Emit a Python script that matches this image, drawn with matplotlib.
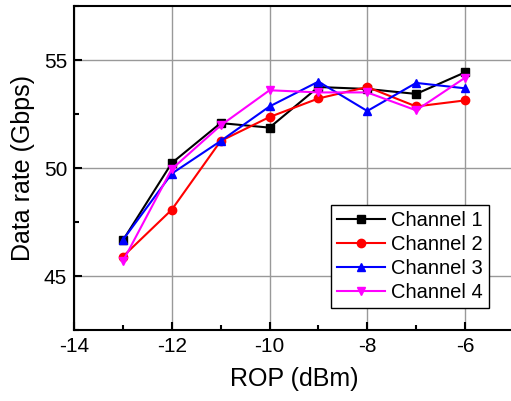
import matplotlib
matplotlib.use("Agg")
import matplotlib.pyplot as plt
from matplotlib.ticker import MultipleLocator

plt.rcParams['font.family'] = ['Liberation Sans', 'DejaVu Sans']
plt.rcParams['axes.unicode_minus'] = False

# ROP values (dBm)
rop = [-13, -12, -11, -10, -9, -8, -7, -6]

# data rates (Gbps)
ch1 = [46.65, 50.23, 52.08, 51.87, 53.75, 53.66, 53.43, 54.43]
ch2 = [45.90, 48.07, 51.25, 52.36, 53.22, 53.75, 52.85, 53.13]
ch3 = [46.67, 49.74, 51.25, 52.85, 54.00, 52.64, 53.94, 53.69]
ch4 = [45.68, 49.95, 51.97, 53.60, 53.50, 53.50, 52.67, 54.18]

labels = ['Channel 1', 'Channel 2', 'Channel 3', 'Channel 4']
colors = ['black', 'red', 'blue', 'magenta']
markers = ['s', 'o', '^', 'v']

fig = plt.figure(figsize=(5.11, 4.01), dpi=100)
ax = fig.add_axes([0.1448, 0.177, 1.0057 - 0.1448, 0.985 - 0.177])

for y, lab, c, m in zip([ch1, ch2, ch3, ch4], labels, colors, markers):
    ax.plot(rop, y, color=c, marker=m, markersize=6, linewidth=1.5, label=lab)

ax.set_xlim(-14, -5)
ax.set_ylim(42.5, 57.5)
ax.xaxis.set_major_locator(MultipleLocator(2))
ax.xaxis.set_minor_locator(MultipleLocator(1))
ax.yaxis.set_major_locator(MultipleLocator(5))
ax.yaxis.set_minor_locator(MultipleLocator(2.5))
ax.tick_params(which='both', direction='in', labelsize=15, width=1.5)
ax.tick_params(which='major', length=6, pad=5)
ax.tick_params(which='minor', length=3.5)
ax.tick_params(top=False, right=False)
ax.grid(True, which='major', color='#999999', linewidth=1)
ax.set_axisbelow(True)
for s in ax.spines.values():
    s.set_linewidth(1.5)

ax.set_xlabel('ROP (dBm)', fontsize=18, labelpad=8)
ax.set_ylabel('Data rate (Gbps)', fontsize=18, labelpad=6)

leg = ax.legend(loc='lower right', bbox_to_anchor=(489 / 511, 1 - 308 / 401),
                bbox_transform=fig.transFigure, borderaxespad=0, fontsize=14.5,
                handlelength=2.4, labelspacing=0.25, handletextpad=0.3,
                borderpad=0.3, fancybox=False, framealpha=1)
leg.get_frame().set_edgecolor('black')
leg.get_frame().set_linewidth(1)

fig.savefig('out.png', dpi=100)
